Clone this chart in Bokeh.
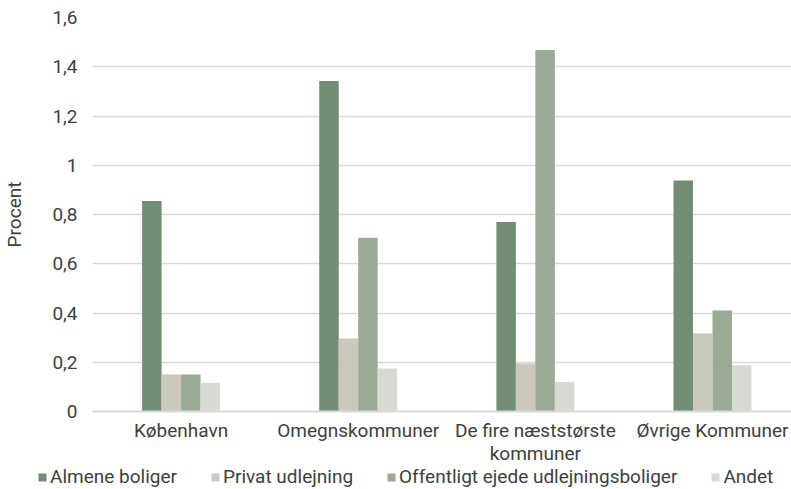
from bokeh.plotting import figure
from bokeh.layouts import column
from bokeh.models import ColumnDataSource, FixedTicker, Legend, LegendItem, Range1d
from bokeh.embed import file_html
from bokeh.resources import INLINE

categories = ["København", "Omegnskommuner", "De fire næststørste\nkommuner", "Øvrige Kommuner"]
series_names = ["Almene boliger", "Privat udlejning", "Offentligt ejede udlejningsboliger", "Andet"]
almene = [0.855, 1.342, 0.770, 0.938]
privat = [0.150, 0.296, 0.195, 0.317]
offentligt = [0.150, 0.706, 1.468, 0.410]
andet = [0.117, 0.175, 0.120, 0.188]
y_ticks = [0, 0.2, 0.4, 0.6, 0.8, 1.0, 1.2, 1.4, 1.6]
y_tick_labels = ["0", "0,2", "0,4", "0,6", "0,8", "1", "1,2", "1,4", "1,6"]

colors = ["#728d73", "#ccc8bc", "#9aaa95", "#d7dad3"]
FONT = "Roboto"
FS = "19px"
TXT = "#404040"

p = figure(width=791, height=467, output_backend="svg", toolbar_location=None,
           x_range=Range1d(0, 3.946), y_range=Range1d(0, 1.6),
           min_border_left=92, min_border_right=0, min_border_top=17, min_border_bottom=56)
p.outline_line_color = None
p.frame_align = False

bw = 0.11
series = [almene, privat, offentligt, andet]
for j, vals in enumerate(series):
    xs = [i + 0.5 + (j - 1.5) * bw for i in range(len(categories))]
    src = ColumnDataSource(dict(x=xs, top=vals))
    p.vbar(x="x", top="top", width=bw, bottom=0, source=src,
           fill_color=colors[j], line_color=None)

# axes
p.xaxis.ticker = FixedTicker(ticks=[i + 0.5 for i in range(len(categories))])
p.xaxis.major_label_overrides = {i + 0.5: c for i, c in enumerate(categories)}
p.xaxis.major_tick_line_color = None
p.xaxis.major_tick_out = 0
p.xaxis.major_tick_in = 0
p.xaxis.minor_tick_line_color = None
p.xaxis.axis_line_color = "#d9d9d9"
p.xaxis.axis_line_width = 2
p.xaxis.major_label_text_font = FONT
p.xaxis.major_label_text_font_size = FS
p.xaxis.major_label_text_color = TXT
p.xaxis.major_label_text_line_height = 1.0
p.xaxis.major_label_standoff = 7

p.yaxis.ticker = FixedTicker(ticks=y_ticks)
p.yaxis.major_label_overrides = {t: l for t, l in zip(y_ticks, y_tick_labels)}
p.yaxis.axis_line_color = None
p.yaxis.major_tick_line_color = None
p.yaxis.major_tick_out = 0
p.yaxis.major_tick_in = 0
p.yaxis.minor_tick_line_color = None
p.yaxis.major_label_text_font = FONT
p.yaxis.major_label_text_font_size = FS
p.yaxis.major_label_text_color = TXT
p.yaxis.major_label_standoff = 15
p.yaxis.axis_label = "Procent"
p.yaxis.axis_label_text_font = FONT
p.yaxis.axis_label_text_font_size = FS
p.yaxis.axis_label_text_font_style = "normal"
p.yaxis.axis_label_text_color = TXT
p.yaxis.axis_label_standoff = 23

p.xgrid.grid_line_color = None
p.ygrid.grid_line_color = "#d9d9d9"
p.ygrid.grid_line_width = 1.5

# legend strip (own figure so the legend can start left of the plot frame)
lg = figure(width=791, height=22, output_backend="svg", toolbar_location=None,
            x_range=Range1d(0, 1), y_range=Range1d(0, 1),
            min_border_left=0, min_border_right=0, min_border_top=0, min_border_bottom=0)
lg.frame_align = False
lg.axis.visible = False
lg.grid.visible = False
lg.outline_line_color = None
items = []
for n, c in zip(series_names, colors):
    # zero-height proxy bar: only used to give the legend its swatch colour
    r = lg.vbar(x=[0.5], top=[0], bottom=[0], width=0.0, fill_color=c, line_color=None)
    items.append(LegendItem(label=n, renderers=[r]))
legend = Legend(items=items, orientation="horizontal", location=(37, 1),
                glyph_width=10, glyph_height=10, label_standoff=3, spacing=33,
                padding=0, margin=0, border_line_color=None, background_fill_alpha=0,
                label_text_font=FONT, label_text_font_size=FS, label_text_color=TXT,
                label_height=20)
lg.add_layout(legend, "center")

layout = column(p, lg, spacing=0)
open("out.html", "w").write(file_html(layout, INLINE))
